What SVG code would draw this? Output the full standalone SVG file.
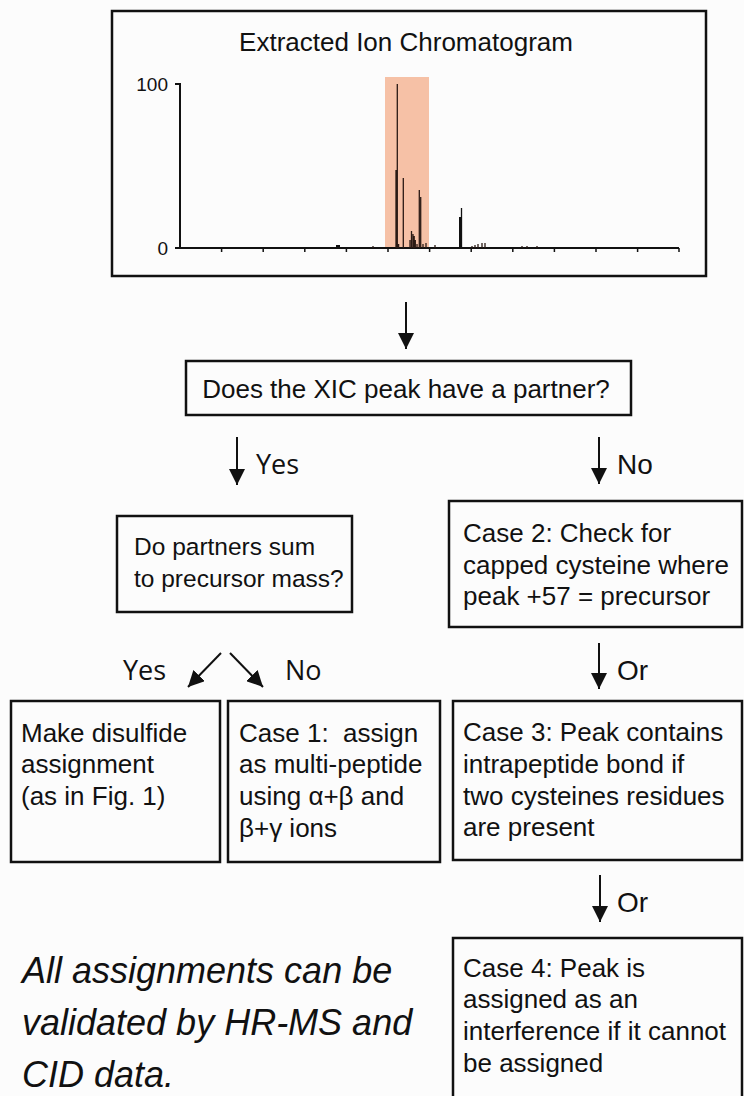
<svg xmlns="http://www.w3.org/2000/svg" width="744" height="1096" viewBox="0 0 744 1096">
<style>
.box{fill:none;stroke:#111;stroke-width:2.5}
.t{font-family:"Liberation Sans",Arial,sans-serif;font-size:26px;fill:#111}
.tm{font-family:"Open Sans","Liberation Sans",sans-serif;font-size:27px;fill:#111}
.tl{font-family:"Liberation Sans",Arial,sans-serif;font-size:28px;fill:#111}
.it{font-family:"Liberation Sans",Arial,sans-serif;font-size:36px;font-style:italic;fill:#111}
.ax{stroke:#111;stroke-width:2;fill:none}
.pk{stroke:#2a1a14;stroke-width:1.3}
.arr{stroke:#111;stroke-width:2;fill:none;marker-end:url(#ah)}
</style>
<defs>
<marker id="ah" viewBox="0 0 16 16" refX="16" refY="8" markerWidth="16" markerHeight="16" markerUnits="userSpaceOnUse" orient="auto">
<path d="M0,0 L16,8 L0,16 z" fill="#111"/>
</marker>
</defs>
<rect x="0" y="0" width="744" height="1096" fill="#fcfcfc"/>

<g id="xic">
<rect class="box" x="112" y="11" width="594" height="265"/>
<text class="t" x="406" y="51" text-anchor="middle">Extracted Ion Chromatogram</text>
<rect x="385" y="77" width="44" height="171" fill="#f6c1a6"/>
<text class="t" x="168" y="91" text-anchor="end" style="font-size:19px">100</text>
<text class="t" x="168" y="255" text-anchor="end" style="font-size:19px">0</text>
<path class="ax" d="M175,84 H180 V248 M175,248 H679"/>
<path class="ax" style="stroke-width:1.5" d="M221.6,248v4 M263.2,248v4 M304.8,248v4 M346.4,248v4 M388,248v4 M429.6,248v4 M471.2,248v4 M512.8,248v4 M554.4,248v4 M596,248v4 M637.6,248v4 M679,248v4"/>
<path class="pk" d="M396,248V170 M397.3,248V84 M398.6,248V244 M403.3,248V178 M410,248V240 M411.5,248V231 M413,248V234 M414.2,248V236 M415.3,248V240 M417,248V244 M419.3,248V190 M420.7,248V197 M423,248V244 M426,248V243 M435,248V245 M373,248V246 M472,248V246 M475,248V245 M478,248V244 M482,248V243 M485,248V243 M522,248V246 M527,248V246 M537,248V246"/>
<rect x="336" y="245" width="4" height="3" fill="#111"/>
<path stroke="#111" stroke-width="2" d="M460,248V217"/>
<path stroke="#111" stroke-width="1.3" d="M461.5,248V208"/>
</g>

<g id="q1">
<rect class="box" x="186" y="361" width="445" height="54"/>
<text class="t" x="406" y="398" text-anchor="middle">Does the XIC peak have a partner?</text>
</g>

<g id="q2">
<rect class="box" x="117" y="516" width="235" height="96"/>
<text class="t" x="134" y="555" style="font-size:24.5px">Do partners sum</text>
<text class="t" x="134" y="587" style="font-size:24.5px">to precursor mass?</text>
</g>

<g id="case2">
<rect class="box" x="449" y="501" width="293" height="126"/>
<text class="t" x="463" y="542">Case 2: Check for</text>
<text class="t" x="463" y="574">capped cysteine where</text>
<text class="t" x="463" y="605">peak +57 = precursor</text>
</g>

<g id="disulfide">
<rect class="box" x="11" y="701" width="209" height="161"/>
<text class="t" x="21" y="742">Make disulfide</text>
<text class="t" x="21" y="773">assignment</text>
<text class="t" x="21" y="805">(as in Fig. 1)</text>
</g>

<g id="case1">
<rect class="box" x="228" y="701" width="212" height="161"/>
<text class="t" x="239" y="742" style="white-space:pre">Case 1:  assign</text>
<text class="t" x="239" y="773">as multi-peptide</text>
<text class="t" x="239" y="805">using α+β and</text>
<text class="t" x="239" y="837">β+γ ions</text>
</g>

<g id="case3">
<rect class="box" x="453" y="701" width="289" height="159"/>
<text class="t" x="463" y="741">Case 3: Peak contains</text>
<text class="t" x="463" y="773">intrapeptide bond if</text>
<text class="t" x="463" y="805">two cysteines residues</text>
<text class="t" x="463" y="836">are present</text>
</g>

<g id="case4">
<rect class="box" x="453" y="938" width="289" height="170"/>
<text class="t" x="463" y="977">Case 4: Peak is</text>
<text class="t" x="463" y="1008">assigned as an</text>
<text class="t" x="463" y="1040">interference if it cannot</text>
<text class="t" x="463" y="1072">be assigned</text>
</g>

<g id="note">
<text class="it" x="22" y="983">All assignments can be</text>
<text class="it" x="22" y="1035">validated by HR-MS and</text>
<text class="it" x="22" y="1087">CID data.</text>
</g>

<g id="connectors">
<line class="arr" x1="406" y1="302" x2="406" y2="349"/>
<line class="arr" x1="237" y1="437" x2="237" y2="485"/>
<text class="tm" x="256" y="474">Yes</text>
<line class="arr" x1="599" y1="437" x2="599" y2="484"/>
<text class="tl" x="617" y="474">No</text>
<line class="arr" x1="221" y1="653" x2="188" y2="687"/>
<text class="tm" x="123" y="680">Yes</text>
<line class="arr" x1="230" y1="653" x2="263" y2="687"/>
<text class="tm" x="285" y="680">No</text>
<line class="arr" x1="599" y1="643" x2="599" y2="689"/>
<text class="tl" x="617" y="680">Or</text>
<line class="arr" x1="600" y1="875" x2="600" y2="922"/>
<text class="tl" x="617" y="912">Or</text>
</g>
</svg>
